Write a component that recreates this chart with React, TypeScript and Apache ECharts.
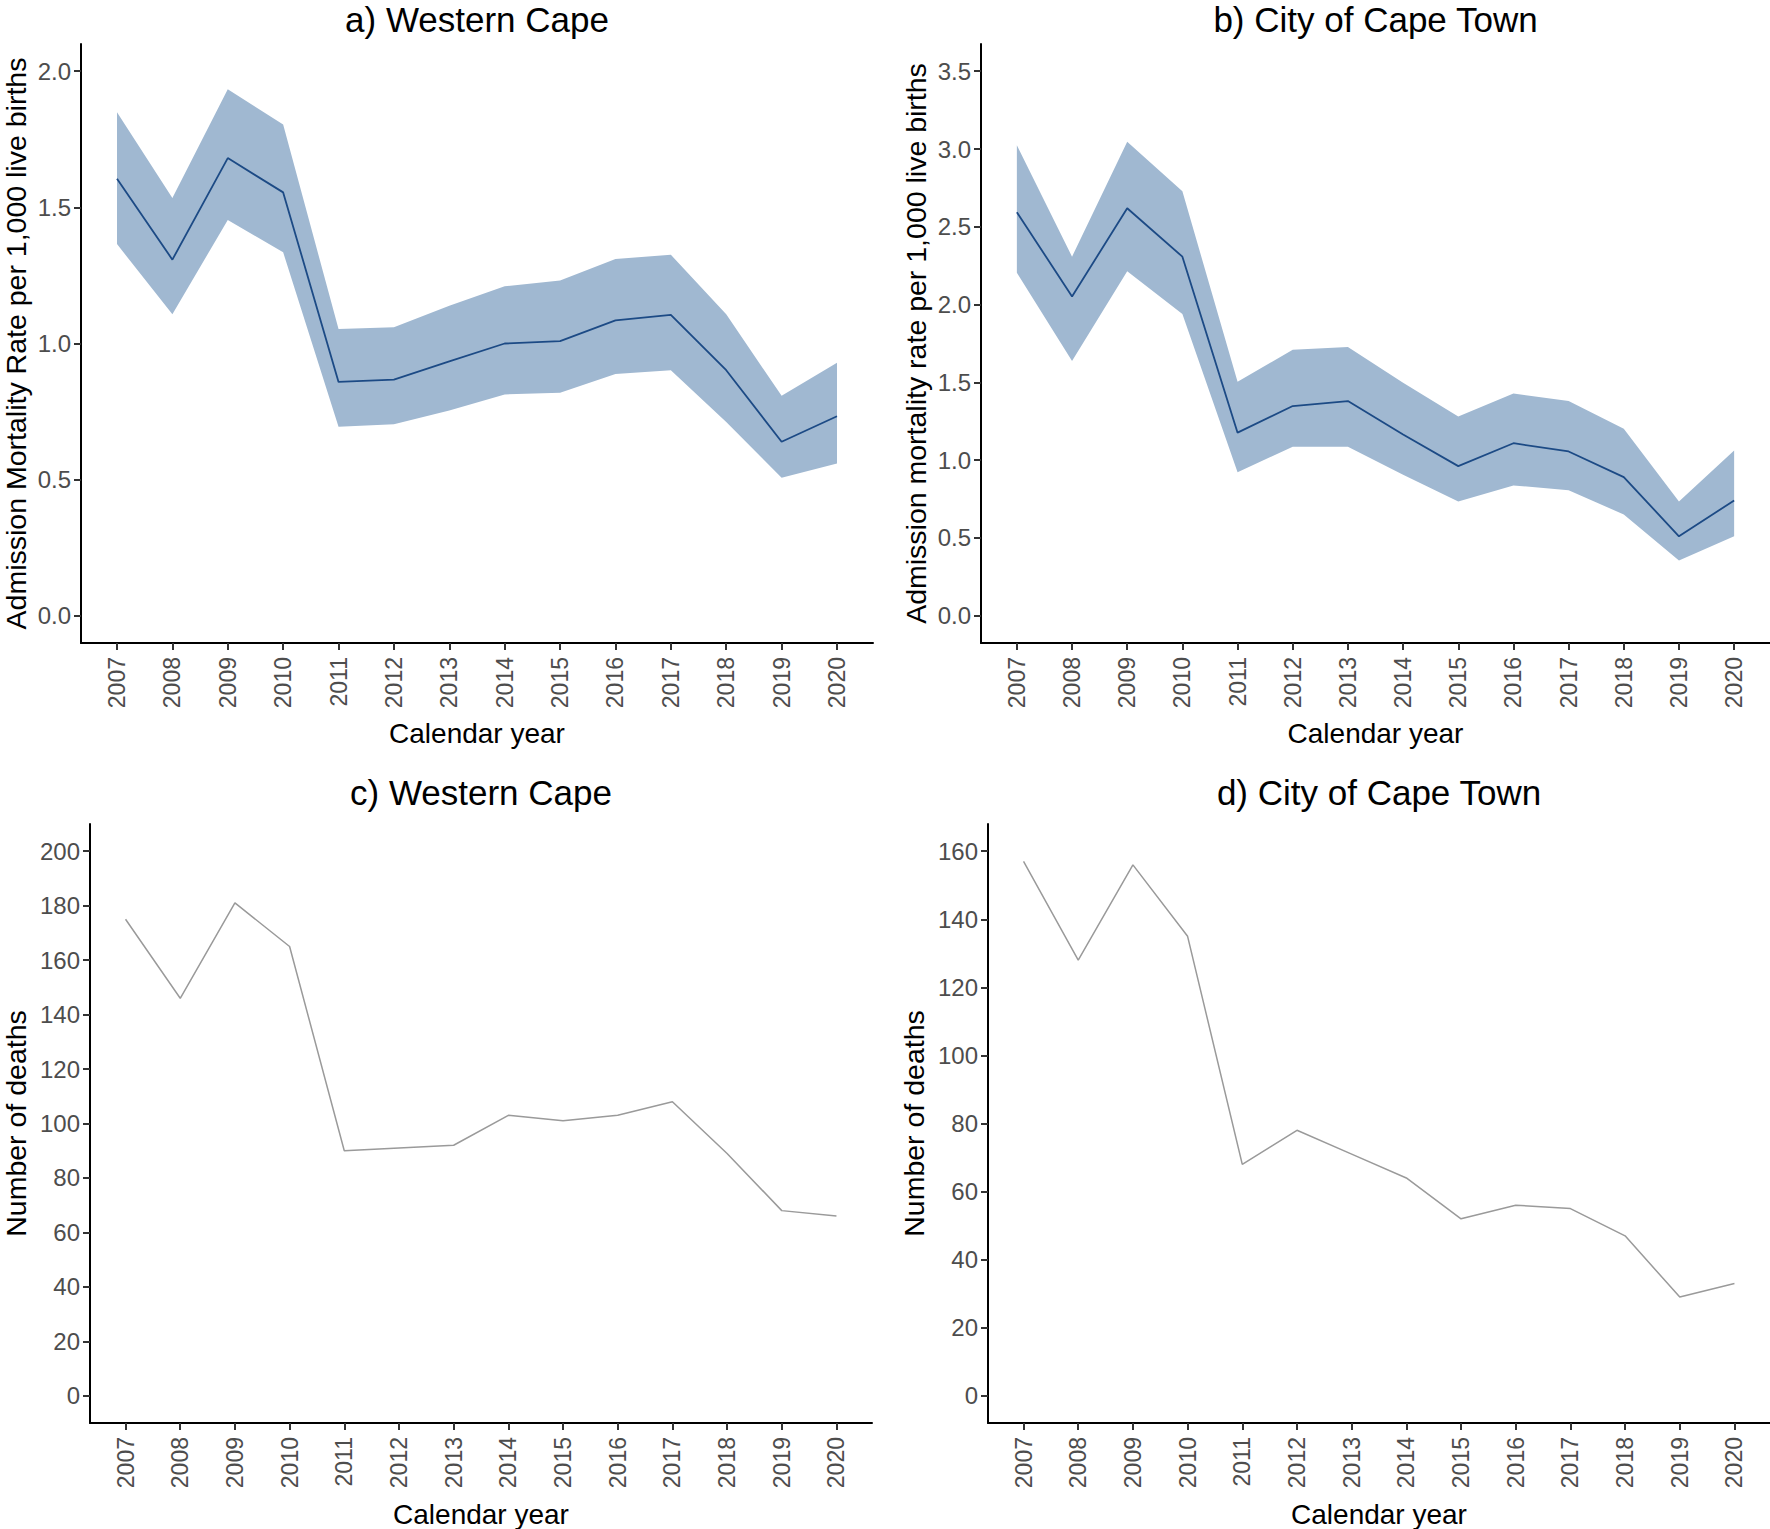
import React, { useEffect, useRef } from "react";
import * as echarts from "echarts";

const years = [2007, 2008, 2009, 2010, 2011, 2012, 2013, 2014, 2015, 2016, 2017, 2018, 2019, 2020];

// a) Western Cape admission mortality rate per 1,000 live births
const wcRate = [1.605, 1.308, 1.681, 1.555, 0.859, 0.867, 0.934, 1.0, 1.009, 1.085, 1.105, 0.902, 0.639, 0.733];
const wcUpper = [1.849, 1.534, 1.934, 1.804, 1.053, 1.06, 1.139, 1.21, 1.231, 1.31, 1.326, 1.107, 0.808, 0.929];
const wcLower = [1.365, 1.107, 1.454, 1.335, 0.694, 0.703, 0.754, 0.813, 0.819, 0.888, 0.902, 0.712, 0.507, 0.559];

// b) City of Cape Town admission mortality rate per 1,000 live births
const ctRate = [2.594, 2.052, 2.619, 2.308, 1.177, 1.348, 1.38, 1.165, 0.962, 1.109, 1.056, 0.891, 0.511, 0.741];
const ctUpper = [3.024, 2.308, 3.046, 2.728, 1.504, 1.71, 1.728, 1.498, 1.28, 1.429, 1.38, 1.202, 0.735, 1.062];
const ctLower = [2.205, 1.638, 2.214, 1.94, 0.922, 1.087, 1.087, 0.906, 0.735, 0.838, 0.807, 0.651, 0.355, 0.511];

// c) / d) number of deaths
const wcDeaths = [175, 146, 181, 165, 90, 91, 92, 103, 101, 103, 108, 89, 68, 66];
const ctDeaths = [157, 128, 156, 135, 68, 78, 71, 64, 52, 56, 55, 47, 29, 33];

const ticksA = [0, 0.5, 1, 1.5, 2];
const ticksB = [0, 0.5, 1, 1.5, 2, 2.5, 3, 3.5];
const ticksC = [0, 20, 40, 60, 80, 100, 120, 140, 160, 180, 200];
const ticksD = [0, 20, 40, 60, 80, 100, 120, 140, 160];

const titles = ["a) Western Cape", "b) City of Cape Town", "c) Western Cape", "d) City of Cape Town"];
const yNames = [
  "Admission Mortality Rate per 1,000 live births",
  "Admission mortality rate per 1,000 live births",
  "Number of deaths",
  "Number of deaths",
];
const xName = "Calendar year";

const FONT = "'Liberation Sans', Arial, Helvetica, sans-serif";
const BAND = "#a0b8d1";
const LINE = "#1c4a85";
const GREY = "#9a9a9a";

export default function App() {
  const ref = useRef<HTMLDivElement>(null);
  useEffect(() => {
    document.body.style.margin = "0";
    if (!ref.current) return;
    const chart = echarts.init(ref.current, null, { renderer: "svg" });

    const grids = [
      { left: 81, top: 44, width: 792, height: 599, containLabel: false, outerBoundsMode: "none" },
      { left: 981, top: 44, width: 789, height: 599, containLabel: false, outerBoundsMode: "none" },
      { left: 90, top: 824, width: 782, height: 599, containLabel: false, outerBoundsMode: "none" },
      { left: 988, top: 824, width: 782, height: 599, containLabel: false, outerBoundsMode: "none" },
    ];
    const yRanges = [
      { min: -0.1, max: 2.1, ticks: ticksA, dec: 1, gap: 51 },
      { min: -0.175, max: 3.675, ticks: ticksB, dec: 1, gap: 51 },
      { min: -10, max: 210, ticks: ticksC, dec: 0, gap: 60 },
      { min: -8, max: 168, ticks: ticksD, dec: 0, gap: 60 },
    ];

    const xAxis = grids.map((_, i) => ({
      type: "value",
      gridIndex: i,
      min: 2006.35,
      max: 2020.65,
      name: xName,
      nameLocation: "middle",
      nameGap: i < 2 ? 76 : 77,
      nameTextStyle: { fontFamily: FONT, fontSize: 28, color: "#000" },
      axisLine: { show: true, onZero: false, lineStyle: { color: "#000", width: 2 } },
      axisTick: { show: true, length: 7, lineStyle: { color: "#333", width: 2 }, customValues: years },
      axisLabel: {
        show: true,
        rotate: 90,
        margin: 14,
        fontFamily: FONT,
        fontSize: 23,
        color: "#4d4d4d",
        customValues: years,
        formatter: (v: number) => String(Math.round(v)),
      },
      splitLine: { show: false },
    }));

    const yAxis = grids.map((_, i) => ({
      type: "value",
      gridIndex: i,
      min: yRanges[i].min,
      max: yRanges[i].max,
      name: yNames[i],
      nameLocation: "middle",
      nameGap: yRanges[i].gap,
      nameTextStyle: { fontFamily: FONT, fontSize: 28.5, color: "#000" },
      axisLine: { show: true, onZero: false, lineStyle: { color: "#000", width: 2 } },
      axisTick: { show: true, length: 7, lineStyle: { color: "#333", width: 2 }, customValues: yRanges[i].ticks },
      axisLabel: {
        show: true,
        margin: 10,
        fontFamily: FONT,
        fontSize: 24,
        color: "#4d4d4d",
        customValues: yRanges[i].ticks,
        formatter: (v: number) => v.toFixed(yRanges[i].dec),
      },
      splitLine: { show: false },
    }));

    const band = (idx: number, lo: number[], hi: number[]) => ({
      type: "custom",
      xAxisIndex: idx,
      yAxisIndex: idx,
      silent: true,
      data: years.map((y, i) => [y, lo[i], hi[i]]),
      encode: { x: 0, y: [1, 2] },
      renderItem: (params: any, api: any) => {
        if (params.dataIndex !== 0) return null;
        const pts: number[][] = [];
        for (let i = 0; i < years.length; i++) pts.push(api.coord([years[i], hi[i]]));
        for (let i = years.length - 1; i >= 0; i--) pts.push(api.coord([years[i], lo[i]]));
        return { type: "polygon", shape: { points: pts }, style: { fill: BAND, stroke: null } };
      },
    });

    const line = (idx: number, vals: number[], color: string, width: number) => ({
      type: "line",
      xAxisIndex: idx,
      yAxisIndex: idx,
      data: years.map((y, i) => [y, vals[i]]),
      showSymbol: false,
      symbol: "none",
      silent: true,
      lineStyle: { color, width },
    });

    const centers = grids.map((g) => g.left + g.width / 2);
    const titleY = [19, 19, 792, 792];

    chart.setOption({
      animation: false,
      backgroundColor: "#fff",
      grid: grids,
      xAxis,
      yAxis,
      series: [
        band(0, wcLower, wcUpper),
        line(0, wcRate, LINE, 1.8),
        band(1, ctLower, ctUpper),
        line(1, ctRate, LINE, 1.8),
        line(2, wcDeaths, GREY, 1.5),
        line(3, ctDeaths, GREY, 1.5),
      ],
      graphic: titles.map((t, i) => ({
        type: "text",
        x: centers[i],
        y: titleY[i],
        style: {
          text: t,
          fill: "#000",
          font: `35px ${FONT}`,
          textAlign: "center",
          textVerticalAlign: "middle",
          align: "center",
          verticalAlign: "middle",
        },
      })),
    });
    return () => chart.dispose();
  }, []);
  return <div ref={ref} style={{ width: 1770, height: 1529 }} />;
}
